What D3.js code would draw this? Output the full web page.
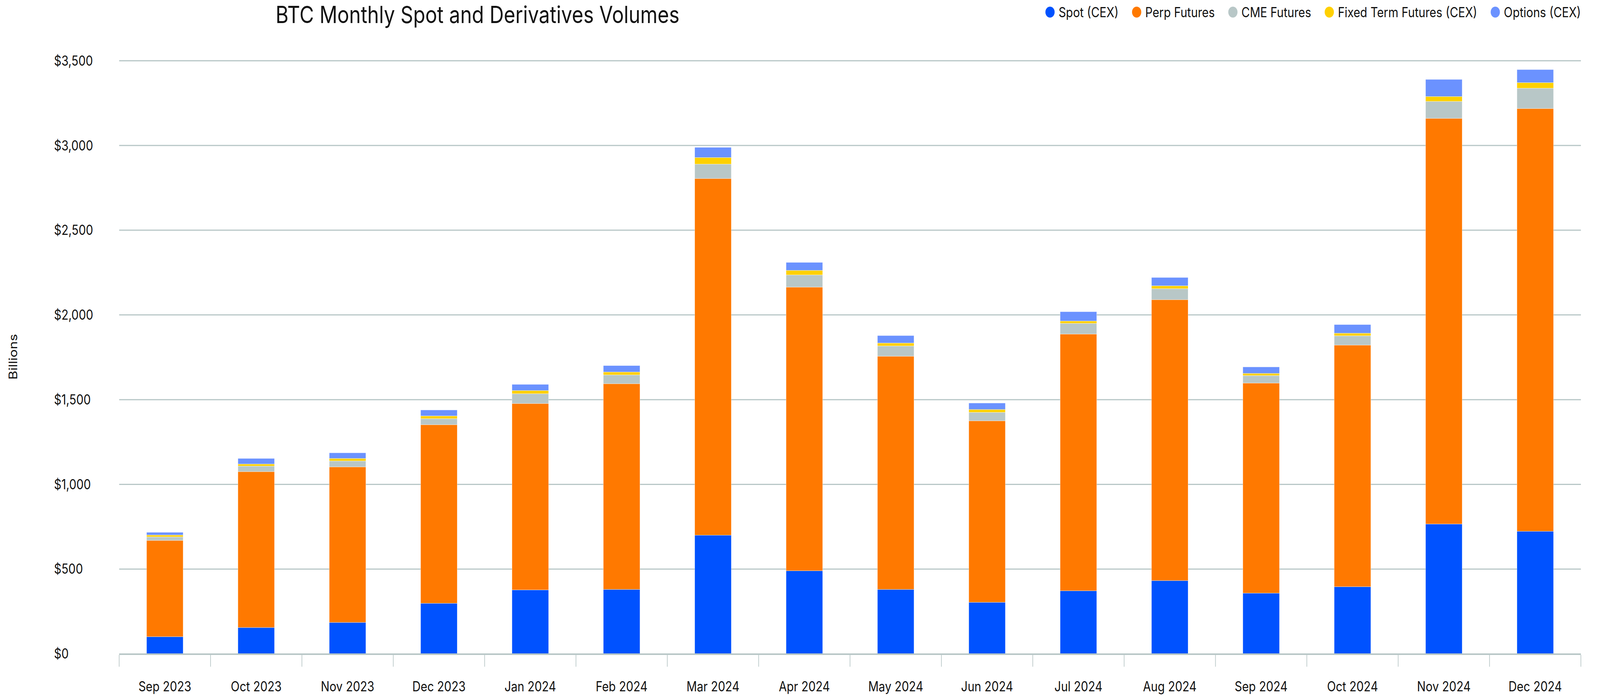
<!DOCTYPE html>
<html>
<head>
<meta charset="utf-8">
<script src="https://cdn.jsdelivr.net/npm/d3@7"></script>
<style>
  html, body { margin: 0; padding: 0; background: #fff; width: 100%; height: 100%; overflow: hidden; }
  .vol-chart svg { display: block; width: 100vw; height: 100vh; }
  text { font-family: Inter, "Noto Sans", sans-serif; fill: #111; }
  .gridLine { stroke: #b8c7c7; stroke-width: 3; }
  .tickMark { stroke: #b8c7c7; stroke-width: 2; }
</style>
</head>
<body>
<div class="vol-chart"></div>
<script>
"use strict";

// months on x axis
var months = ["Sep 2023","Oct 2023","Nov 2023","Dec 2023","Jan 2024","Feb 2024","Mar 2024","Apr 2024",
              "May 2024","Jun 2024","Jul 2024","Aug 2024","Sep 2024","Oct 2024","Nov 2024","Dec 2024"];

// series values, billions USD
var spotCex    = [101, 155, 185, 298, 377, 380, 700, 490, 380, 304, 372, 432, 358, 396, 766, 723];
var perpFut    = [568, 920, 918, 1054, 1100, 1214, 2105, 1674, 1376, 1071, 1515, 1658, 1240, 1426, 2394, 2495];
var cmeFut     = [21, 33, 35, 36, 58, 52, 85, 72, 61, 50, 63, 65, 44, 55, 100, 120];
var fixedFut   = [11, 12, 15, 16, 19, 17, 39, 27, 17, 17, 14, 17, 13, 15, 29, 33];
var optionsCex = [16, 33, 33, 35, 36, 38, 60, 47, 44, 38, 55, 49, 38, 51, 101, 77];

var seriesNames = ["Spot (CEX)", "Perp Futures", "CME Futures", "Fixed Term Futures (CEX)", "Options (CEX)"];
var seriesColors = ["#0052ff", "#ff7900", "#b8c7c7", "#ffd000", "#6b92ff"];
var yTicks = [0, 500, 1000, 1500, 2000, 2500, 3000, 3500];

(function(){
  var W = 4860, H = 1781;
  var plotLeft = 362, plotRight = 4802, plotTop = 155.5, plotBottom = 1673;

  // build rows for stack
  var keys = ["spot","perp","cme","fixed","options"];
  var rows = months.map(function(m, i){
    return { month: m, spot: spotCex[i], perp: perpFut[i], cme: cmeFut[i], fixed: fixedFut[i], options: optionsCex[i] };
  });
  var stacked = d3.stack().keys(keys)(rows);

  // fill the whole window, chart drawn in a 4860x1781 box
  var svg = d3.select(".vol-chart").append("svg")
    .attr("viewBox", "0 0 " + W + " " + H)
    .attr("preserveAspectRatio", "none");

  var x = d3.scaleBand().domain(months).range([plotLeft, plotRight]).paddingInner(0.6).paddingOuter(0.3);
  var y = d3.scaleLinear().domain([0, 3500]).range([plotBottom, plotTop]);

  // title
  svg.append("text")
    .attr("x", 837).attr("y", 59)
    .style("font-size", "60px")
    .text("BTC Monthly Spot and Derivatives Volumes");

  // gridlines + y labels
  var gridG = svg.append("g");
  gridG.selectAll(".gridLine")
    .data(yTicks.filter(function(d){ return d > 0; })).enter()
    .append("line").attr("class", "gridLine")
    .attr("x1", plotLeft).attr("x2", plotRight)
    .attr("y1", function(d){ return y(d); })
    .attr("y2", function(d){ return y(d); });

  gridG.selectAll(".yLabel")
    .data(yTicks).enter()
    .append("text").attr("class", "yLabel")
    .attr("x", 164)
    .attr("y", function(d){ return y(d); })
    .attr("dy", "0.35em")
    .style("font-size", "35px")
    .text(function(d){ return "$" + d3.format(",")(d); });

  svg.append("text")
    .attr("transform", "translate(52,913) rotate(-90)")
    .style("text-anchor", "middle")
    .style("font-size", "35px")
    .text("Billions");

  // bars
  var layers = svg.selectAll(".layer")
    .data(stacked).enter()
    .append("g").attr("class", "layer")
    .style("fill", function(d, i){ return seriesColors[i]; });

  layers.selectAll("rect")
    .data(function(d){ return d; }).enter()
    .append("rect")
    .attr("x", function(d){ return x(d.data.month); })
    .attr("width", x.bandwidth())
    .attr("y", function(d){ return y(d[1]); })
    .attr("height", function(d){ return y(d[0]) - y(d[1]); })
    .style("stroke", "#fff")
    .style("stroke-width", 1)
    .style("stroke-opacity", 0.6);

  // x axis line + tick marks at band edges
  var gap = (x.step() - x.bandwidth()) / 2;
  var edges = months.map(function(m){ return x(m) - gap; });
  edges.push(plotRight);

  svg.append("line").attr("class", "gridLine")
    .attr("x1", plotLeft).attr("x2", plotRight)
    .attr("y1", plotBottom + 1).attr("y2", plotBottom + 1)
    .style("stroke-width", 4);

  svg.selectAll(".tickMark")
    .data(edges).enter()
    .append("line").attr("class", "tickMark")
    .attr("x1", function(d){ return d; }).attr("x2", function(d){ return d; })
    .attr("y1", plotBottom + 3).attr("y2", 1706);

  svg.selectAll(".xLabel")
    .data(months).enter()
    .append("text").attr("class", "xLabel")
    .attr("x", function(d){ return x(d) + x.bandwidth() / 2; })
    .attr("y", 1769)
    .style("text-anchor", "middle")
    .style("font-size", "35px")
    .text(function(d){ return d; });

  // legend, laid out right to left
  var legend = svg.append("g").attr("class", "legend");
  var items = legend.selectAll(".legItem")
    .data(seriesNames).enter()
    .append("g").attr("class", "legItem");
  items.append("circle")
    .attr("r", 14).attr("cx", 0).attr("cy", 31)
    .style("fill", function(d, i){ return seriesColors[i]; });
  items.append("text")
    .attr("x", 26).attr("y", 44)
    .style("font-size", "35px")
    .text(function(d){ return d; });

  var cursor = plotRight;
  var nodes = items.nodes();
  for (var i = nodes.length - 1; i >= 0; i--) {
    var tw = d3.select(nodes[i]).select("text").node().getComputedTextLength();
    var cx = cursor - tw - 26;
    d3.select(nodes[i]).attr("transform", "translate(" + cx + ",0)");
    cursor = cx - 55;
  }
})();
</script>
</body>
</html>
